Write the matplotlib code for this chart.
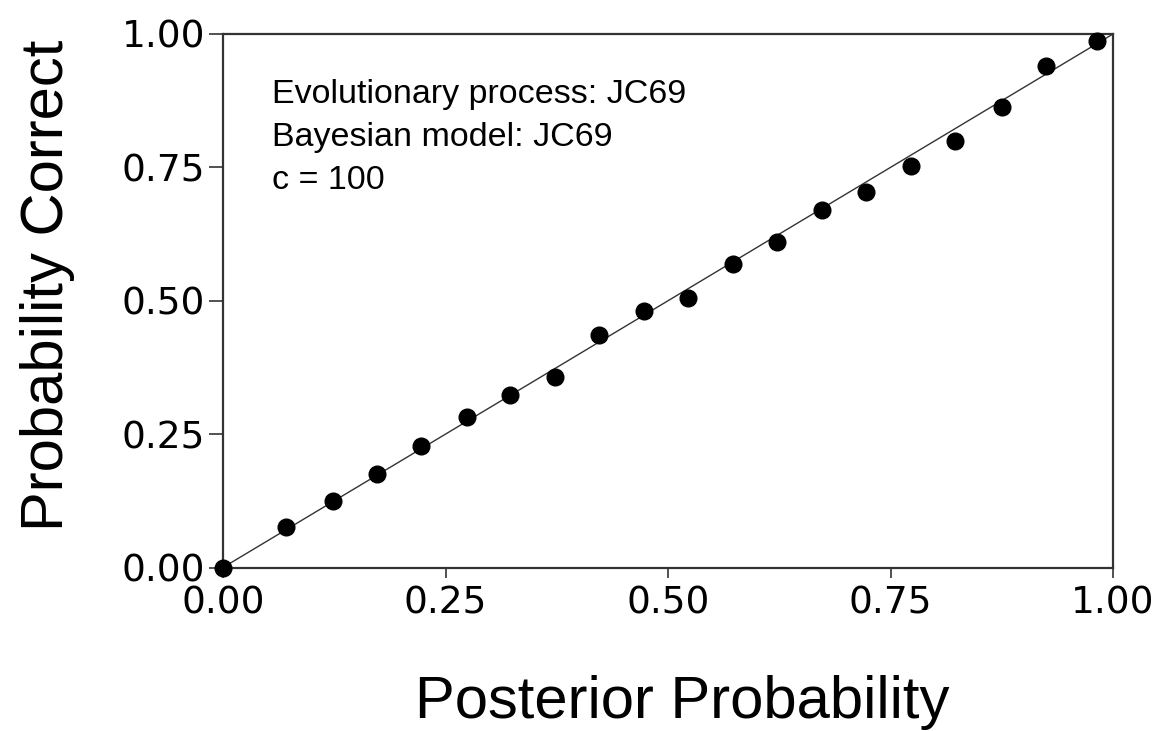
import matplotlib
matplotlib.use("Agg")
import matplotlib.pyplot as plt

# calibration points
posterior = [0.0, 0.071, 0.124, 0.173, 0.223, 0.274, 0.323, 0.373, 0.423, 0.473,
             0.522, 0.573, 0.622, 0.673, 0.723, 0.773, 0.823, 0.875, 0.925, 0.982]
correct = [0.0, 0.075, 0.125, 0.175, 0.227, 0.283, 0.323, 0.357, 0.436, 0.481,
           0.505, 0.569, 0.611, 0.671, 0.703, 0.753, 0.800, 0.864, 0.940, 0.986]

ticks = [0.0, 0.25, 0.5, 0.75, 1.0]
tick_labels = ["0.00", "0.25", "0.50", "0.75", "1.00"]
notes = ["Evolutionary process: JC69", "Bayesian model: JC69", "c = 100"]

plt.rcParams['font.family'] = ['Liberation Sans', 'DejaVu Sans']

W, H = 1160, 731
fig = plt.figure(figsize=(W / 100, H / 100), dpi=100)
ax = fig.add_axes([223 / W, 1 - 567.5 / H, 890 / W, 533.5 / H])

dark = '#333333'
ax.plot([0, 1], [0, 1], color=dark, lw=1.0, zorder=2)
ax.plot(posterior, correct, 'o', color='black', ms=12, zorder=3, clip_on=False)

ax.set_xlim(0, 1)
ax.set_ylim(0, 1)
ax.set_xticks(ticks)
ax.set_yticks(ticks)
ax.set_xticklabels(tick_labels, family='DejaVu Sans', fontsize=27)
ax.set_yticklabels(tick_labels, family='DejaVu Sans', fontsize=27)
ax.tick_params(axis='x', length=7, width=1.2, color=dark, pad=6)
ax.tick_params(axis='y', length=10, width=1.2, color=dark, pad=3)
for s in ax.spines.values():
    s.set_linewidth(1.6)
    s.set_color(dark)

# annotation block, one line each
for i, line in enumerate(notes):
    fig.text(272 / W, 1 - (103 + 43 * i) / H, line, fontsize=24.5,
             ha='left', va='baseline')

fig.text(682 / W, 1 - 718 / H, "Posterior Probability", fontsize=43,
         ha='center', va='baseline')
fig.text(63 / W, 1 - 285 / H, "Probability Correct", fontsize=43,
         rotation=90, rotation_mode='anchor', ha='center', va='baseline')

fig.savefig("out.png", dpi=100)
